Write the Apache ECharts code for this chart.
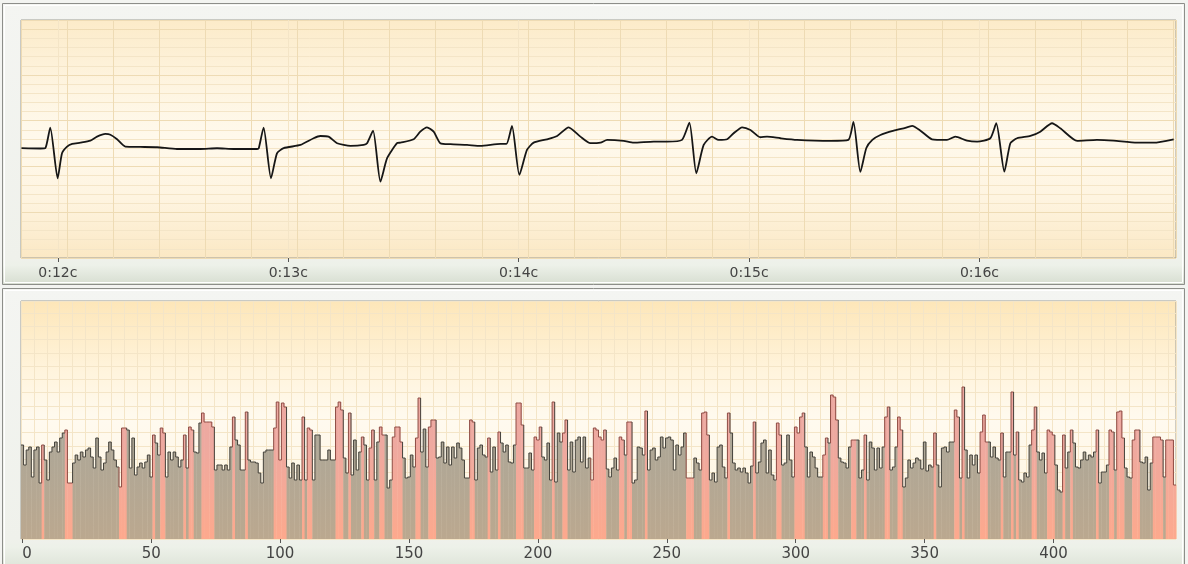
<!DOCTYPE html>
<html>
<head>
<meta charset="utf-8">
<title>ECG strip and RR bars</title>
<script src="https://cdn.jsdelivr.net/npm/echarts@6.0.0/dist/echarts.min.js"></script>
<style>
  html, body { margin: 0; padding: 0; background: #f3f4f1; }
  #chart { width: 1188px; height: 564px; }
</style>
</head>
<body>
<div id="chart"></div>
<script>
// ECG trace: time in seconds, amplitude in mV
const ecgTime = [
  11.842, 11.924, 11.946, 11.967, 11.999, 12.018, 12.040, 12.062, 12.098, 12.141,
  12.170, 12.206, 12.228, 12.257, 12.293, 12.358, 12.431, 12.517, 12.618, 12.691,
  12.763, 12.865, 12.872, 12.893, 12.925, 12.951, 12.980, 13.053, 13.110, 13.139,
  13.175, 13.212, 13.270, 13.327, 13.342, 13.368, 13.400, 13.429, 13.472, 13.487,
  13.544, 13.573, 13.602, 13.631, 13.660, 13.704, 13.776, 13.834, 13.921, 13.947,
  13.971, 14.003, 14.036, 14.065, 14.123, 14.167, 14.217, 14.268, 14.311, 14.355,
  14.384, 14.456, 14.499, 14.586, 14.644, 14.709, 14.741, 14.771, 14.803, 14.839,
  14.868, 14.905, 14.933, 14.970, 15.006, 15.049, 15.078, 15.136, 15.208, 15.353,
  15.431, 15.453, 15.483, 15.509, 15.535, 15.570, 15.628, 15.671, 15.708, 15.744,
  15.794, 15.859, 15.895, 15.946, 15.990, 16.047, 16.073, 16.108, 16.134, 16.163,
  16.221, 16.264, 16.315, 16.351, 16.424, 16.510, 16.582, 16.684, 16.756, 16.843
];
const ecgMv = [
  0.000, -0.004, 0.002, 0.224, -0.329, -0.056, 0.016, 0.046, 0.060, 0.082,
  0.126, 0.155, 0.147, 0.097, 0.016, 0.013, 0.010, -0.009, -0.009, -0.001,
  -0.009, -0.009, 0.000, 0.224, -0.329, -0.056, 0.000, 0.035, 0.108, 0.133,
  0.126, 0.054, 0.024, 0.035, 0.054, 0.191, -0.366, -0.110, 0.054, 0.060,
  0.097, 0.180, 0.228, 0.180, 0.054, 0.043, 0.035, 0.024, 0.046, 0.046,
  0.243, -0.293, -0.020, 0.060, 0.097, 0.133, 0.228, 0.126, 0.054, 0.060,
  0.090, 0.079, 0.060, 0.071, 0.071, 0.090, 0.279, -0.274, 0.035, 0.126,
  0.090, 0.097, 0.163, 0.228, 0.199, 0.119, 0.126, 0.108, 0.090, 0.079,
  0.090, 0.286, -0.260, 0.002, 0.090, 0.144, 0.191, 0.217, 0.243, 0.191,
  0.097, 0.090, 0.126, 0.082, 0.071, 0.108, 0.272, -0.257, 0.054, 0.108,
  0.133, 0.180, 0.272, 0.217, 0.079, 0.090, 0.082, 0.060, 0.060, 0.097
];
const timeTicks = [12, 13, 14, 15, 16];

// RR intervals (bar heights), one per beat
const rrHeights = [
  94, 74, 89, 92, 62, 89, 92, 56, 94, 79, 59, 87, 92, 97, 87, 101, 106, 109, 56, 56,
  76, 84, 79, 87, 82, 89, 91, 82, 71, 101, 82, 69, 76, 87, 97, 89, 79, 72, 52, 111,
  111, 109, 71, 101, 64, 72, 76, 71, 77, 84, 62, 104, 96, 84, 111, 106, 62, 87, 79, 87,
  82, 72, 79, 104, 71, 112, 109, 87, 86, 116, 126, 117, 117, 117, 112, 69, 74, 74, 69, 74,
  69, 92, 122, 99, 94, 69, 69, 127, 79, 77, 77, 76, 66, 56, 87, 89, 89, 89, 111, 137,
  79, 136, 132, 72, 61, 76, 59, 74, 59, 122, 59, 111, 109, 59, 104, 104, 79, 79, 79, 89,
  79, 79, 132, 137, 129, 81, 66, 126, 64, 99, 69, 87, 102, 94, 59, 91, 109, 59, 97, 112,
  104, 104, 51, 59, 102, 112, 112, 97, 81, 61, 62, 84, 72, 101, 141, 87, 110, 72, 112, 119,
  119, 81, 82, 97, 76, 92, 74, 92, 81, 96, 91, 79, 61, 61, 119, 117, 59, 91, 94, 84,
  82, 101, 67, 92, 69, 107, 96, 87, 94, 77, 76, 94, 136, 136, 114, 71, 71, 86, 69, 102,
  99, 112, 82, 79, 96, 59, 137, 57, 106, 97, 106, 119, 69, 97, 67, 99, 102, 77, 102, 71,
  81, 59, 111, 109, 102, 99, 109, 70, 62, 71, 81, 69, 102, 99, 84, 117, 117, 56, 59, 92,
  91, 84, 128, 69, 89, 91, 79, 82, 102, 91, 101, 102, 99, 69, 94, 84, 92, 106, 61, 61,
  61, 81, 76, 69, 126, 127, 104, 59, 66, 57, 92, 94, 72, 61, 126, 106, 76, 69, 71, 67,
  71, 66, 56, 73, 117, 66, 77, 96, 99, 66, 89, 64, 59, 116, 104, 74, 76, 104, 79, 62,
  112, 106, 122, 126, 92, 62, 87, 82, 71, 62, 62, 84, 101, 96, 144, 142, 119, 81, 77, 76,
  71, 92, 99, 99, 99, 61, 69, 104, 59, 97, 91, 69, 91, 71, 92, 122, 132, 69, 72, 92,
  122, 109, 52, 61, 79, 71, 76, 81, 79, 70, 97, 68, 74, 72, 106, 74, 52, 91, 92, 87,
  97, 97, 129, 122, 61, 152, 89, 61, 84, 74, 84, 66, 107, 124, 97, 97, 82, 92, 81, 79,
  106, 62, 87, 87, 147, 84, 107, 59, 57, 66, 62, 94, 109, 132, 87, 79, 86, 66, 109, 107,
  104, 74, 49, 47, 104, 71, 87, 109, 96, 72, 71, 79, 87, 79, 84, 82, 87, 109, 56, 67,
  67, 74, 109, 107, 69, 127, 128, 101, 71, 62, 61, 99, 109, 109, 77, 76, 82, 49, 76, 102,
  102, 102, 99, 62, 99, 99, 99, 54
];
// beats drawn in pink
const rrPink = [
  8, 17, 18, 19, 38, 39, 40, 51, 54, 55, 63, 65, 66, 70, 71, 72, 73, 74, 82, 87,
  98, 99, 100, 101, 102, 109, 111, 112, 122, 123, 124, 127, 132, 135, 136, 139, 140, 144, 145, 146,
  147, 153, 154, 158, 159, 160, 174, 175, 181, 185, 192, 193, 194, 199, 200, 201, 206, 210, 211, 221,
  222, 223, 224, 225, 226, 232, 233, 235, 236, 242, 258, 259, 260, 264, 265, 266, 274, 284, 293, 294,
  300, 301, 302, 303, 311, 312, 314, 315, 316, 322, 323, 327, 335, 336, 340, 341, 354, 362, 363, 365,
  372, 373, 374, 380, 384, 386, 392, 393, 398, 399, 400, 404, 407, 417, 422, 423, 425, 426, 427, 431,
  432, 433, 439, 440, 441, 442, 444, 445, 446, 447
];
const rrTicks = [0, 50, 100, 150, 200, 250, 300, 350, 400];

const pinkSet = new Set(rrPink);
const beatNo = rrHeights.map((_, i) => String(i));
const rrData = rrHeights.map((h, i) => [i, h, i > 0 ? rrHeights[i - 1] : -1, pinkSet.has(i) ? 1 : 0]);

const FONT = '"DejaVu Sans", Verdana, sans-serif';
const MINOR = '#f4e5c7';
const MAJOR = '#eedbb4';

function vgrad(stops) {
  return { type: 'linear', x: 0, y: 0, x2: 0, y2: 1, colorStops: stops.map(([o, c]) => ({ offset: o, color: c })) };
}

function renderBar(params, api) {
  const i = api.value(0);
  const v = api.value(1);
  const prev = api.value(2);
  const pink = api.value(3) === 1;
  const cs = params.coordSys;
  const w = api.size([1, 0])[0];
  const top = api.coord([i, v]);
  const base = api.coord([i, 0]);
  const x0 = top[0] - w / 2;
  const x1 = top[0] + w / 2;
  const fill = {
    type: 'linear', global: true, x: 0, y: cs.y, x2: 0, y2: cs.y + cs.height,
    colorStops: pink
      ? [{ offset: 0, color: '#e6a6a2' }, { offset: 0.6, color: '#eea9a0' }, { offset: 1, color: '#fda98d' }]
      : [{ offset: 0, color: '#a9a59a' }, { offset: 0.6, color: '#aea797' }, { offset: 1, color: '#bba88f' }]
  };
  const pts = [];
  if (prev >= 0) pts.push([x0, api.coord([i, prev])[1]]);
  pts.push([x0, top[1]], [x1, top[1]]);
  return {
    type: 'group',
    children: [
      { type: 'rect', shape: { x: x0, y: top[1], width: w + 0.4, height: base[1] - top[1] }, style: { fill }, z2: 0 },
      { type: 'polyline', shape: { points: pts }, style: { stroke: pink ? '#8e4c44' : '#45433c', lineWidth: 1, fill: null }, z2: 10 }
    ]
  };
}

const chart = echarts.init(document.getElementById('chart'), null, { renderer: 'canvas' });

chart.setOption({
  animation: false,
  backgroundColor: '#f3f4f1',
  graphic: [
    { type: 'rect', silent: true, z: -10, shape: { x: 2.5, y: 3.5, width: 1182, height: 281 },
      style: { fill: vgrad([[0, '#f4f5f2'], [0.905, '#eff1eb'], [0.93, '#edf1e9'], [1, '#d6ddd0']]), stroke: '#8d8e8a', lineWidth: 1 } },
    { type: 'rect', silent: true, z: -9, shape: { x: 4.5, y: 5.5, width: 1178, height: 277 },
      style: { fill: null, stroke: '#ffffff', lineWidth: 1 } },
    { type: 'rect', silent: true, z: -10, shape: { x: 2.5, y: 288.5, width: 1182, height: 290 },
      style: { fill: vgrad([[0, '#f4f5f2'], [0.865, '#eff1eb'], [0.89, '#edf1e9'], [1, '#d6ddd0']]), stroke: '#8d8e8a', lineWidth: 1 } },
    { type: 'rect', silent: true, z: -9, shape: { x: 4.5, y: 290.5, width: 1178, height: 290 },
      style: { fill: null, stroke: '#ffffff', lineWidth: 1 } }
  ],
  grid: [
    { left: 21, top: 20, width: 1155, height: 238, show: true,
      backgroundColor: vgrad([[0, '#fcebc9'], [0.3, '#fef5e2'], [0.5, '#fff9ec'], [0.75, '#fef4e0'], [1, '#fbe8c4']]),
      borderColor: '#9f9e97', borderWidth: 1 },
    { left: 21, top: 301, width: 1155, height: 238, show: true,
      backgroundColor: vgrad([[0, '#fde6b8'], [0.3, '#fff4dd'], [0.5, '#fffaef'], [1, '#fff4dc']]),
      borderColor: '#9f9e97', borderWidth: 1 }
  ],
  xAxis: [
    { type: 'value', gridIndex: 0, min: 11.84, max: 16.853, interval: 0.04,
      axisLine: { show: false, onZero: false },
      axisTick: { show: true, customValues: timeTicks, length: 4, lineStyle: { color: '#555' } },
      axisLabel: { show: true, customValues: timeTicks, margin: 8, color: '#444', fontFamily: FONT, fontSize: 14,
        formatter: v => '0:' + Math.round(v) + 'c' },
      splitLine: { show: true, lineStyle: { color: MINOR, width: 1 } } },
    { type: 'value', gridIndex: 0, min: 11.84, max: 16.853, interval: 0.2,
      axisLine: { show: false, onZero: false }, axisTick: { show: false }, axisLabel: { show: false },
      splitLine: { show: true, lineStyle: { color: MAJOR, width: 1 } } },
    { type: 'category', gridIndex: 1, data: beatNo, boundaryGap: true,
      axisLine: { show: false, onZero: false },
      axisTick: { show: true, alignWithLabel: true, length: 4, lineStyle: { color: '#555' },
        interval: idx => rrTicks.includes(idx) },
      axisLabel: { show: true, margin: 8, color: '#444', fontFamily: FONT, fontSize: 15, alignMinLabel: 'left',
        interval: idx => rrTicks.includes(idx) },
      splitLine: { show: true, interval: 4, lineStyle: { color: MINOR, width: 1 } } }
  ],
  yAxis: [
    { type: 'value', gridIndex: 0, min: -1.2, max: 1.4, interval: 0.1,
      axisLine: { show: false, onZero: false }, axisTick: { show: false }, axisLabel: { show: false },
      splitLine: { show: true, lineStyle: { color: MINOR, width: 1 } } },
    { type: 'value', gridIndex: 0, min: -1.2, max: 1.4, interval: 0.5,
      axisLine: { show: false, onZero: false }, axisTick: { show: false }, axisLabel: { show: false },
      splitLine: { show: true, lineStyle: { color: MAJOR, width: 1 } } },
    { type: 'value', gridIndex: 1, min: 0, max: 238, interval: 13.3,
      axisLine: { show: false, onZero: false }, axisTick: { show: false }, axisLabel: { show: false },
      splitLine: { show: true, lineStyle: { color: MINOR, width: 1 } } }
  ],
  series: [
    { type: 'line', xAxisIndex: 0, yAxisIndex: 0, showSymbol: false, smooth: 0.2,
      data: ecgTime.map((t, i) => [t, ecgMv[i]]),
      lineStyle: { color: '#161616', width: 1.8 }, z: 5 },
    { type: 'custom', xAxisIndex: 2, yAxisIndex: 2, renderItem: renderBar,
      encode: { x: 0, y: 1 }, data: rrData, z: 5 }
  ]
});
</script>
</body>
</html>
